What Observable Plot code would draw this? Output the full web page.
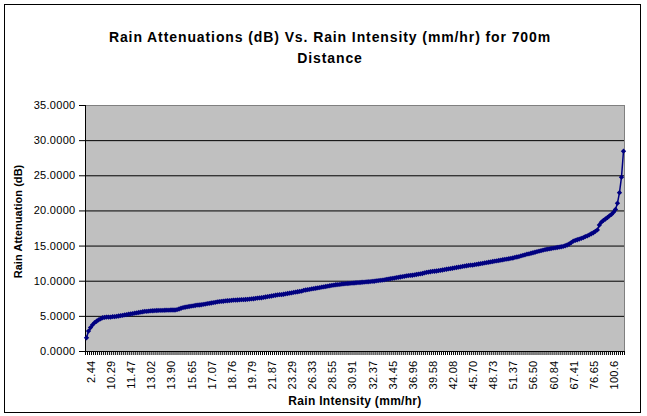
<!DOCTYPE html>
<html><head><meta charset="utf-8">
<script src="https://cdn.jsdelivr.net/npm/d3@7"></script>
<script src="https://cdn.jsdelivr.net/npm/@observablehq/plot@0.6"></script>
<style>
body{margin:0;background:#fff;}
#wrap{position:relative;width:647px;height:416px;font-family:Arial,"Liberation Sans",sans-serif;overflow:hidden;}
#chart{position:absolute;left:0;top:0;}
#chart svg text{letter-spacing:0.3px;}
#chart svg text.ytitle, #chart svg .ytitle text{letter-spacing:0.05px;}
#border{position:absolute;left:4px;top:4px;width:637px;height:409px;border:1px solid #000;box-sizing:border-box;pointer-events:none;}
#title{position:absolute;left:0;top:27px;width:660px;text-align:center;font-weight:bold;font-size:14px;line-height:21px;letter-spacing:0.9px;color:#000;}
</style></head><body>
<div id="wrap">
<div id="chart"></div>
<div id="title">Rain Attenuations (dB) Vs. Rain Intensity (mm/hr) for 700m<br>Distance</div>
<div id="border"></div>
</div>
<script>
// Category labels shown on the x axis (every 10th rain-intensity category, mm/hr)
const intensityLabels = ["2.44","10.29","11.47","13.02","13.90","15.65","17.07","18.76","19.79","21.87","23.29","26.33","28.55","30.91","32.37","34.45","36.96","39.58","42.08","45.70","48.73","51.37","56.50","60.84","67.41","76.65","100.6"];
// Rain attenuation (dB) per category
const attenuation = [
1.95,2.9,3.4,3.8,4.1,4.3,4.5,4.65,4.8,4.85,
4.9,4.9,4.9,4.95,4.95,5.0,5.05,5.1,5.15,5.2,
5.25,5.3,5.35,5.4,5.45,5.5,5.55,5.6,5.65,5.7,
5.72,5.75,5.78,5.8,5.82,5.83,5.85,5.85,5.86,5.87,
5.88,5.88,5.9,5.9,5.9,5.95,6.05,6.15,6.25,6.3,
6.35,6.4,6.45,6.5,6.55,6.6,6.62,6.65,6.7,6.75,
6.8,6.85,6.9,6.95,7.0,7.05,7.1,7.12,7.15,7.2,
7.22,7.25,7.27,7.3,7.32,7.33,7.35,7.37,7.38,7.4,
7.42,7.45,7.48,7.5,7.55,7.6,7.62,7.65,7.7,7.75,
7.8,7.85,7.9,7.95,8.0,8.05,8.08,8.1,8.15,8.2,
8.25,8.3,8.35,8.4,8.45,8.5,8.55,8.6,8.7,8.75,
8.8,8.85,8.9,8.95,9.0,9.05,9.1,9.15,9.2,9.25,
9.3,9.35,9.4,9.45,9.5,9.52,9.55,9.6,9.62,9.65,
9.68,9.7,9.72,9.75,9.78,9.8,9.82,9.85,9.87,9.9,
9.92,9.95,9.98,10.0,10.05,10.08,10.12,10.15,10.2,10.25,
10.3,10.35,10.4,10.45,10.5,10.55,10.6,10.65,10.7,10.75,
10.8,10.82,10.85,10.9,10.95,11.0,11.05,11.1,11.18,11.25,
11.3,11.35,11.4,11.42,11.45,11.5,11.55,11.6,11.65,11.7,
11.75,11.8,11.85,11.9,11.95,12.0,12.05,12.1,12.15,12.2,
12.25,12.28,12.3,12.35,12.4,12.45,12.5,12.55,12.6,12.65,
12.7,12.75,12.8,12.85,12.9,12.95,13.0,13.05,13.1,13.15,
13.2,13.25,13.3,13.38,13.45,13.5,13.6,13.68,13.75,13.85,
13.9,13.98,14.05,14.12,14.2,14.28,14.35,14.42,14.5,14.55,
14.6,14.65,14.7,14.75,14.8,14.85,14.9,14.95,15.05,15.15,
15.3,15.5,15.7,15.8,15.9,16.0,16.1,16.2,16.35,16.45,
16.6,16.75,16.9,17.1,17.3,18.0,18.4,18.65,18.85,19.05,
19.3,19.5,19.8,20.2,21.1,22.6,24.8,28.5
];
const yTicks = [0,5,10,15,20,25,30,35];
const yGrid = [5,10,15,20,25,30];
const xTitle = "Rain Intensity (mm/hr)";
const yTitle = "Rain Attenuation (dB)";

const n = attenuation.length;
const data = attenuation.map((v,i)=>({i, v}));
const labelIdx = intensityLabels.map((_,k)=>k*10);
const tickIdx = d3.range(n+1).map(i=>i-0.5);

const chart = Plot.plot({
  width:647, height:416,
  marginLeft:85, marginRight:23, marginTop:105, marginBottom:65,
  style:{fontFamily:"Arial, 'Liberation Sans', sans-serif", fontSize:"11px", color:"#000", background:"transparent"},
  x:{domain:[-0.5, n-0.5]},
  y:{domain:[0,35]},
  marks:[
    Plot.frame({fill:"#c0c0c0", stroke:"#808080"}),
    Plot.gridY(yGrid, {stroke:"#000", strokeOpacity:1}),
    Plot.ruleX([-0.5], {stroke:"#000"}),
    Plot.ruleY([0], {stroke:"#000"}),
    Plot.axisY(yTicks, {tickFormat:d=>d.toFixed(4), tickSize:6, tickPadding:4, label:null}),
    Plot.axisX(tickIdx, {tickFormat:()=>"", tickSize:4, label:null}),
    Plot.axisX(labelIdx, {tickFormat:d=>intensityLabels[Math.round(d/10)], tickRotate:-90, tickSize:0, tickPadding:9, dx:5, label:null}),
    Plot.line(data, {x:"i", y:"v", stroke:"#000080", strokeWidth:1.5}),
    Plot.dot(data, {x:"i", y:"v", symbol:"diamond2", r:2.4, fill:"#000080", stroke:"none"}),
    Plot.text([xTitle], {frameAnchor:"bottom", dy:53, fontWeight:"bold", fontSize:12, fill:"#000"}),
    Plot.text([yTitle], {frameAnchor:"left", dx:-67, dy:-7, rotate:-90, textAnchor:"middle", fontWeight:"bold", fontSize:11, fill:"#000", className:"ytitle"})
  ]
});
document.getElementById("chart").appendChild(chart);
</script>
</body></html>
